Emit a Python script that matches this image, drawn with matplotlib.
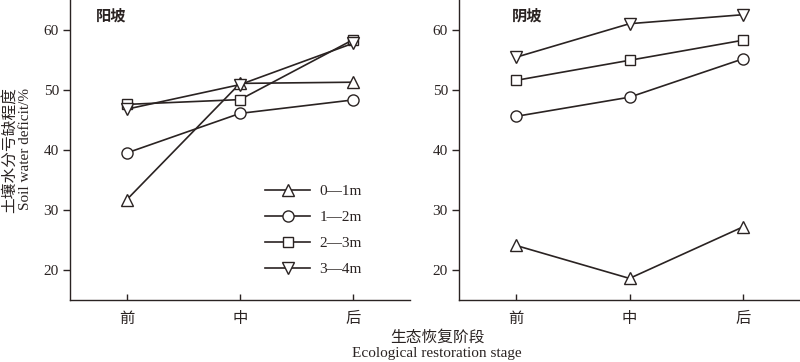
import matplotlib
matplotlib.use("Agg")
import matplotlib.pyplot as plt

stages = ["前", "中", "后"]
series_labels = ["0—1m", "1—2m", "2—3m", "3—4m"]
markers = ["^", "o", "s", "v"]
msizes = [8.5, 8, 7, 8.5]

sunny = {
    "0—1m": [31.7, 51.1, 51.3],
    "1—2m": [39.5, 46.1, 48.35],
    "2—3m": [47.6, 48.4, 58.4],
    "3—4m": [46.8, 50.9, 57.8],
}
shady = {
    "0—1m": [24.1, 18.6, 27.2],
    "1—2m": [45.6, 48.8, 55.2],
    "2—3m": [51.6, 54.95, 58.3],
    "3—4m": [55.45, 61.05, 62.55],
}
yticks = [20, 30, 40, 50, 60]

plt.rcParams['font.family'] = ['Liberation Serif', 'Noto Sans CJK SC']
col = "#2a2322"

fig = plt.figure(figsize=(8, 3.62), dpi=100)
axL = fig.add_axes([70/800, 1-300/362, 340/800, 300/362])
axR = fig.add_axes([459/800, 1-300/362, 341/800, 300/362])

cjk = ['Noto Sans CJK SC']

for ax, data, title, tx in [(axL, sunny, "阳坡", 0.075), (axR, shady, "阴坡", 0.155)]:
    for lab, m, ms in zip(series_labels, markers, msizes):
        ax.plot(range(len(stages)), data[lab], color=col, lw=1.2, marker=m,
                markersize=ms, markerfacecolor="white", markeredgecolor=col,
                markeredgewidth=1.0, label=lab)
    ax.set_xlim(-0.5, 2.5)
    ax.set_ylim(15, 65)
    ax.set_yticks(yticks)
    ax.set_xticks(range(len(stages)))
    ax.set_xticklabels(stages, family=cjk, fontsize=11, fontweight='medium')
    for s in ["top", "right"]:
        ax.spines[s].set_visible(False)
    for s in ["left", "bottom"]:
        ax.spines[s].set_color(col)
        ax.spines[s].set_linewidth(1.0)
    ax.tick_params(axis='y', direction='out', length=5, width=1, color=col,
                   labelsize=11, pad=3, labelcolor=col)
    ax.tick_params(axis='x', direction='in', length=4, width=1, color=col,
                   pad=7, labelcolor=col)
    ax.text(tx, 0.975, title, transform=ax.transAxes, family=cjk,
            fontsize=11, fontweight='bold', va='top', ha='left', color=col)

leg = axL.legend(loc='lower left', bbox_to_anchor=(0.55, 0.055), frameon=False,
                 handlelength=3.0, handletextpad=0.6, labelspacing=0.8,
                 fontsize=11, borderpad=0)
for t in leg.get_texts():
    t.set_color(col)

fig.text(10/800, 1-150/362, "土壤水分亏缺程度", rotation=90, family=cjk,
         fontsize=11.3, fontweight='medium', ha='center', va='center', color=col)
fig.text(26/800, 1-149/362, "Soil water deficit/%", rotation=90,
         fontsize=11, ha='center', va='center', color=col)
fig.text(437/800, 1-337/362, "生态恢复阶段", family=cjk, fontsize=11.3,
         fontweight='medium', ha='center', va='center', color=col)
fig.text(437/800, 1-353/362, "Ecological restoration stage", fontsize=11,
         ha='center', va='center', color=col)

fig.savefig("out.png", dpi=100)
